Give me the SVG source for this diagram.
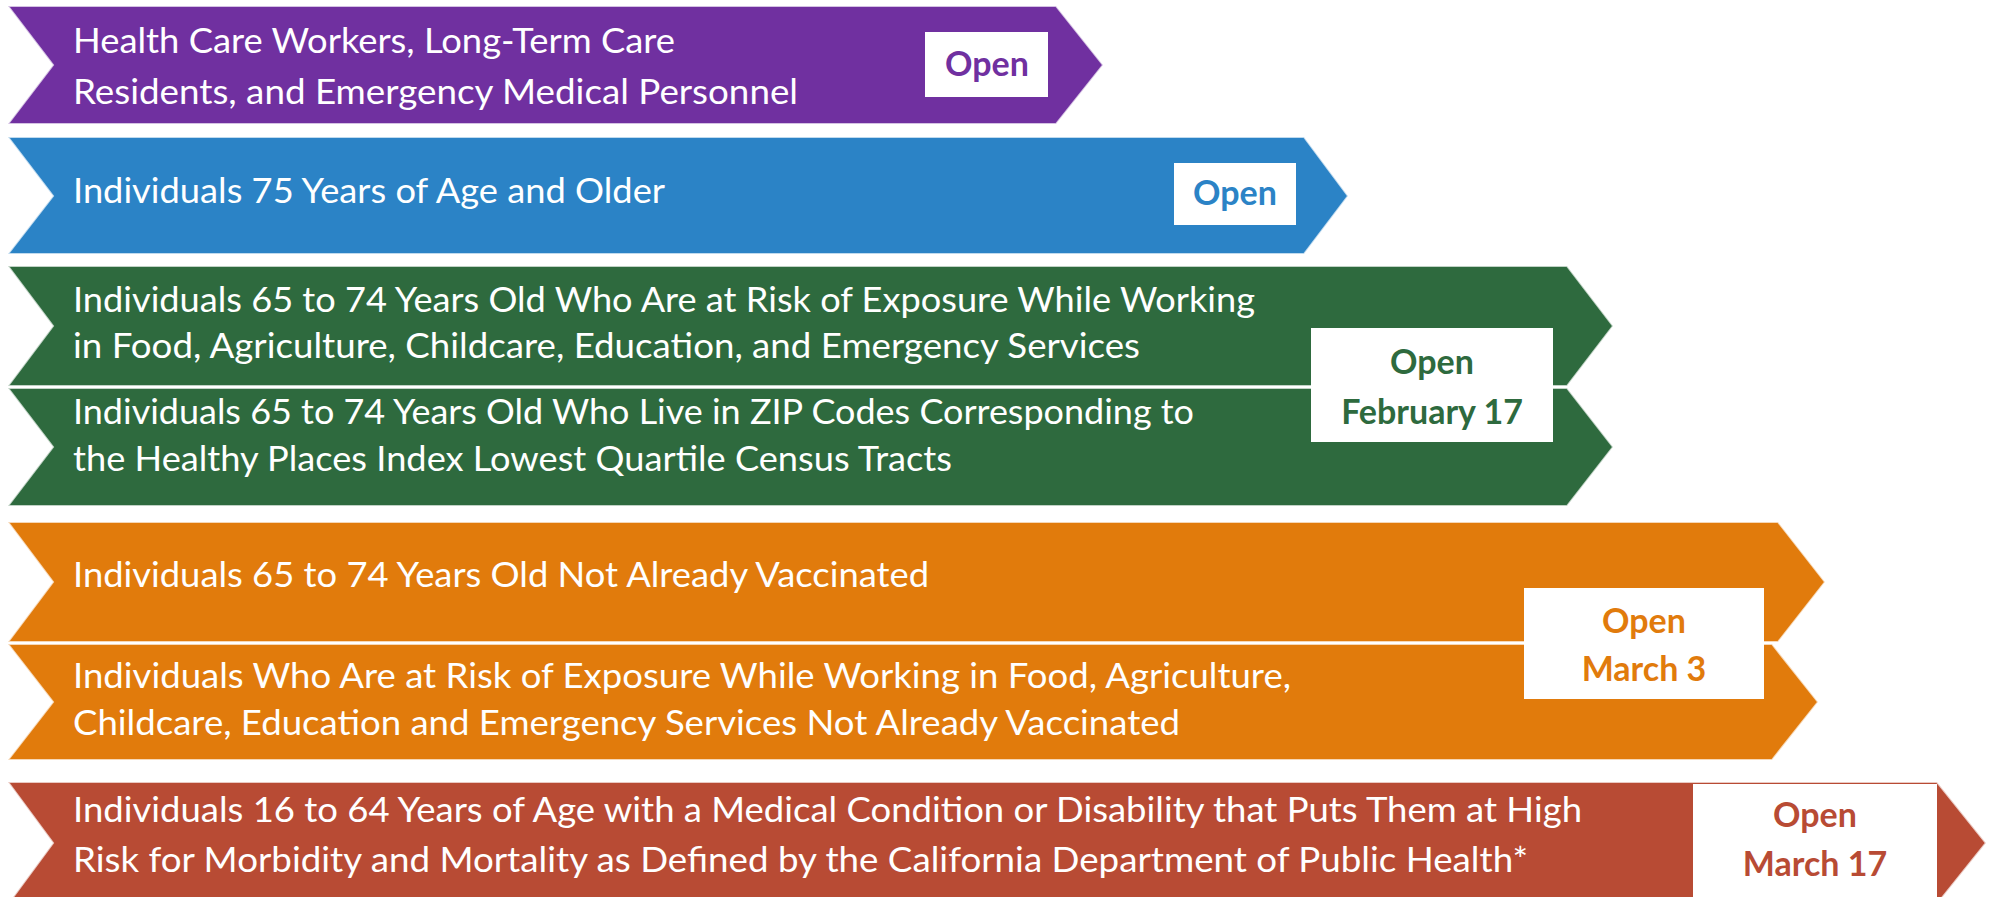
<svg xmlns="http://www.w3.org/2000/svg" width="1994" height="897" viewBox="0 0 1994 897">
<style>
.band{stroke:#ffffff;stroke-width:2;stroke-opacity:0.7}
.t{font-family:Lato,"Open Sans","Liberation Sans",sans-serif;font-size:34px;fill:#ffffff}
.box{fill:#ffffff}
.bt{font-family:Lato,"Open Sans","Liberation Sans",sans-serif;font-size:34px;font-weight:bold;text-anchor:middle}
</style>
<rect width="1994" height="897" fill="#ffffff"/>
<g id="phase-1a">
<polygon class="band" fill="#7030A0" points="8,6 1056,6 1103,65 1056,124 8,124 53,65"/>
<text class="t" x="73" y="53" textLength="602" lengthAdjust="spacingAndGlyphs">Health Care Workers, Long-Term Care</text>
<text class="t" x="73" y="104" textLength="725" lengthAdjust="spacingAndGlyphs">Residents, and Emergency Medical Personnel</text>
<rect class="box" x="925" y="32" width="123" height="65"/>
<text class="bt" x="987" y="76" fill="#7030A0">Open</text>
</g>
<g id="phase-75plus">
<polygon class="band" fill="#2B83C6" points="8,137 1304,137 1348,196 1304,254 8,254 53,196"/>
<text class="t" x="73" y="203" textLength="592" lengthAdjust="spacingAndGlyphs">Individuals 75 Years of Age and Older</text>
<rect class="box" x="1174" y="163" width="122" height="62"/>
<text class="bt" x="1235" y="205" fill="#2B83C6">Open</text>
</g>
<g id="phase-feb17">
<polygon class="band" fill="#2E6A3E" points="8,266 1567,266 1613,326 1567,386 8,386 53,326"/>
<polygon class="band" fill="#2E6A3E" points="8,388 1567,388 1613,447 1567,506 8,506 53,447"/>
<text class="t" x="73" y="312" textLength="1182" lengthAdjust="spacingAndGlyphs">Individuals 65 to 74 Years Old Who Are at Risk of Exposure While Working</text>
<text class="t" x="73" y="358" textLength="1067" lengthAdjust="spacingAndGlyphs">in Food, Agriculture, Childcare, Education, and Emergency Services</text>
<text class="t" x="73" y="424" textLength="1121" lengthAdjust="spacingAndGlyphs">Individuals 65 to 74 Years Old Who Live in ZIP Codes Corresponding to</text>
<text class="t" x="73" y="471" textLength="879" lengthAdjust="spacingAndGlyphs">the Healthy Places Index Lowest Quartile Census Tracts</text>
<rect class="box" x="1311" y="328" width="242" height="114"/>
<text class="bt" x="1432" y="374" fill="#2E6A3E">Open</text>
<text class="bt" x="1432" y="424" fill="#2E6A3E">February 17</text>
</g>
<g id="phase-mar3">
<polygon class="band" fill="#E17B0C" points="8,522 1778,522 1825,582 1778,642 8,642 53,582"/>
<polygon class="band" fill="#E17B0C" points="8,644 1772,644 1818,702 1772,760 8,760 53,702"/>
<text class="t" x="73" y="587" textLength="856" lengthAdjust="spacingAndGlyphs">Individuals 65 to 74 Years Old Not Already Vaccinated</text>
<text class="t" x="73" y="688" textLength="1218" lengthAdjust="spacingAndGlyphs">Individuals Who Are at Risk of Exposure While Working in Food, Agriculture,</text>
<text class="t" x="73" y="735" textLength="1107" lengthAdjust="spacingAndGlyphs">Childcare, Education and Emergency Services Not Already Vaccinated</text>
<rect class="box" x="1524" y="588" width="240" height="111"/>
<text class="bt" x="1644" y="633" fill="#E17B0C">Open</text>
<text class="bt" x="1644" y="681" fill="#E17B0C">March 3</text>
</g>
<g id="phase-mar17">
<polygon class="band" fill="#B84B34" points="8,782 1937,782 1986,843 1937,904 8,904 53,843"/>
<text class="t" x="73" y="822" textLength="1509" lengthAdjust="spacingAndGlyphs">Individuals 16 to 64 Years of Age with a Medical Condition or Disability that Puts Them at High</text>
<text class="t" x="73" y="872" textLength="1455" lengthAdjust="spacingAndGlyphs">Risk for Morbidity and Mortality as Defined by the California Department of Public Health*</text>
<rect class="box" x="1693" y="784" width="244" height="120"/>
<text class="bt" x="1815" y="827" fill="#B84B34">Open</text>
<text class="bt" x="1815" y="876" fill="#B84B34">March 17</text>
</g>
</svg>
